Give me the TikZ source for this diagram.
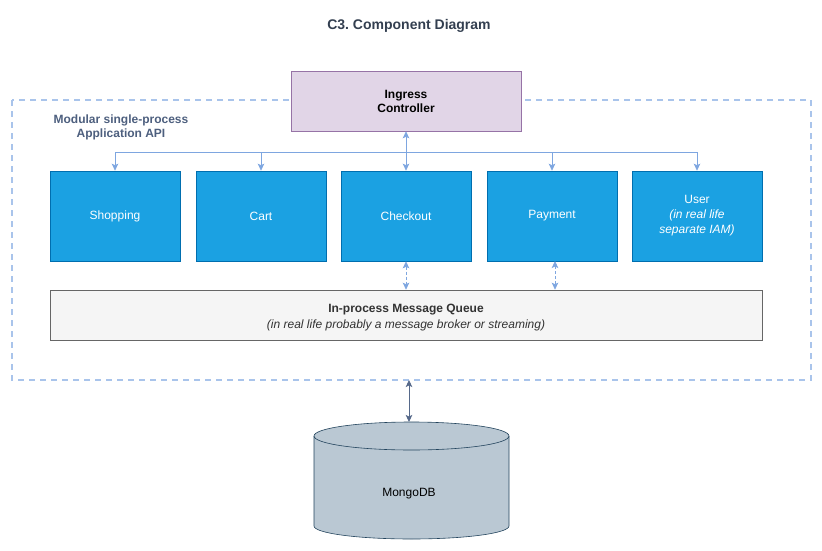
\documentclass[tikz,border=0pt]{standalone}
\usepackage{fontspec}
\setmainfont{Liberation Sans}
\frenchspacing
\usetikzlibrary{arrows.meta}
\definecolor{titlec}{HTML}{333F50}
\definecolor{lblc}{HTML}{4D5F7E}
\definecolor{ingfill}{HTML}{E1D5E7}
\definecolor{ingdraw}{HTML}{9673A6}
\definecolor{svcfill}{HTML}{1BA1E2}
\definecolor{svcdraw}{HTML}{006EAF}
\definecolor{qfill}{HTML}{F5F5F5}
\definecolor{qdraw}{HTML}{666666}
\definecolor{qtext}{HTML}{333333}
\definecolor{arrc}{HTML}{7EA6E0}
\definecolor{contc}{HTML}{A9C4EB}
\definecolor{dbfill}{HTML}{BAC8D3}
\definecolor{dbdraw}{HTML}{23445D}
\definecolor{dbarr}{HTML}{56698A}
\tikzset{
  x=1pt, y=-1pt,
  tip/.tip={Stealth[length=7pt,width=6.5pt,inset=1.5pt]},
  bodyfont/.style={font=\fontsize{12}{15}\selectfont},
  svc/.style={draw=svcdraw, fill=svcfill, text=white, minimum width=130pt, minimum height=90pt, inner sep=0pt, bodyfont, align=center, line width=0.6pt},
  conn/.style={draw=arrc, line width=0.8pt, -tip},
  bconn/.style={draw=arrc, line width=0.8pt, tip-tip},
  dconn/.style={bconn, dash pattern=on 3pt off 2pt},
}
\begin{document}
\begin{tikzpicture}
\useasboundingbox (0,0) rectangle (822,551);
\node[font=\bfseries\fontsize{14}{16}\selectfont, text=titlec] (title) at (409,26) {C3. Component Diagram};
% container
\draw[contc, line width=1.2pt, dash pattern=on 6pt off 5pt] (12,100) rectangle (811,380);
\coordinate (contbot) at (409,380);
\node[font=\bfseries\fontsize{12}{14}\selectfont, text=lblc, align=center] (contlbl) at (121,127) {Modular single-process\\Application API};
% ingress
\node[draw=ingdraw, fill=ingfill, minimum width=230pt, minimum height=60pt, inner sep=0pt, font=\bfseries\fontsize{12}{14}\selectfont, align=center, line width=0.6pt] (ing) at (406,101) {Ingress\\Controller};
% services
\node[svc] (shop) at (115,216) {Shopping};
\node[svc] (cart) at (261,216) {Cart};
\node[svc] (chk) at (406,216) {Checkout};
\node[svc] (pay) at (552,216) {Payment};
\node[svc] (user) at (697,216) {User\\\itshape (in real life\\\itshape separate IAM)};
% queue
\node[draw=qdraw, fill=qfill, minimum width=712pt, minimum height=50pt, inner sep=0pt, line width=0.6pt] (q) at (406,315) {};
\node[text=qtext, align=center, font=\fontsize{12}{16}\selectfont] (qlbl) at (406,318) {{\bfseries In-process Message Queue}\\{\itshape (in real life probably a message broker or streaming)}};
% db cylinder
\path[draw=dbdraw, fill=dbfill, line width=0.6pt] (314,436) -- (314,526) arc[start angle=180, end angle=0, x radius=97.5, y radius=13] -- (509,436) arc[start angle=0, end angle=-180, x radius=97.5, y radius=14] -- cycle;
\draw[dbdraw, line width=0.6pt] (314,436) arc[start angle=180, end angle=0, x radius=97.5, y radius=14];
\coordinate (dbtop) at (409,422);
\node[bodyfont] (db) at (409,494) {MongoDB};
% connectors
\coordinate (bus) at (406,152);
\draw[bconn] (ing.south) -- (chk.north);
\draw[conn] (bus) -| (shop.north);
\draw[conn] (bus) -| (cart.north);
\draw[conn] (bus) -| (pay.north);
\draw[conn] (bus) -| (user.north);
\draw[dconn] (chk.south) -- (chk.south |- q.north);
\coordinate (paybot) at (555,261);
\draw[dconn] (paybot) -- (paybot |- q.north);
\draw[draw=dbarr, line width=0.9pt, tip-tip] (contbot) -- (dbtop);
\end{tikzpicture}
\end{document}
